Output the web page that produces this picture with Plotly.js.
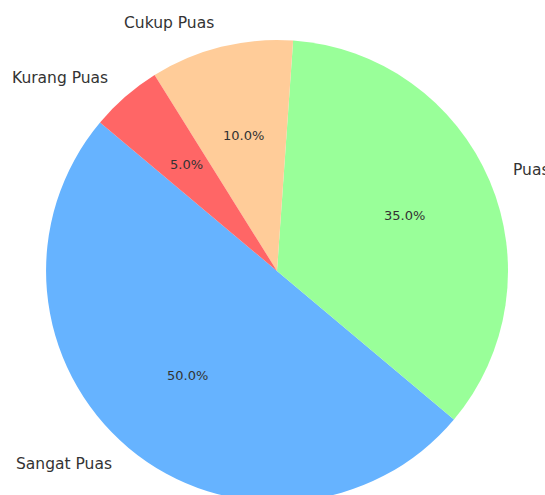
<!DOCTYPE html>
<html>
<head>
<meta charset="utf-8">
<script src="https://cdn.plot.ly/plotly-3.0.1.min.js"></script>
<style>html,body{margin:0;padding:0;overflow:hidden;background:#fff;}</style>
</head>
<body>
<div id="chart"></div>
<script>
const labels = ["Sangat Puas", "Puas", "Cukup Puas", "Kurang Puas"];
const values = [50, 35, 10, 5];
const colors = ["#66b3ff", "#99ff99", "#ffcc99", "#ff6666"];

const W = 545, H = 505;
const M = {l: 9, r: 0, t: 40, b: 3};
const pw = W - M.l - M.r, ph = H - M.t - M.b;
const R = Math.min(pw, ph) / 2;
const startAngle = 140; // degrees, counterclockwise from +x (like matplotlib)

const total = values.reduce((a, b) => a + b, 0);
const annotations = [];
let cum = 0;
values.forEach((v, i) => {
  const mid = (startAngle + 360 * (cum + v / 2) / total) * Math.PI / 180;
  cum += v;
  const c = Math.cos(mid), s = Math.sin(mid);
  annotations.push({
    xref: 'paper', yref: 'paper',
    x: 0.5 + 1.1 * R * c / pw, y: 0.5 + 1.1 * R * s / ph,
    text: labels[i], showarrow: false, yshift: 1.5,
    xanchor: c >= 0 ? 'left' : 'right', yanchor: 'middle',
    font: {family: 'DejaVu Sans', size: 15.5, color: '#333333'}
  });
  annotations.push({
    xref: 'paper', yref: 'paper',
    x: 0.5 + 0.6 * R * c / pw, y: 0.5 + 0.6 * R * s / ph,
    text: (100 * v / total).toFixed(1) + '%', showarrow: false, yshift: 1.5,
    xanchor: 'center', yanchor: 'middle',
    font: {family: 'DejaVu Sans', size: 13, color: '#333333'}
  });
});

const trace = {
  type: 'pie',
  labels: labels,
  values: values,
  marker: {colors: colors, line: {width: 0}},
  sort: false,
  direction: 'counterclockwise',
  rotation: 270 - startAngle,
  textinfo: 'none',
  hoverinfo: 'label+percent',
  showlegend: false
};

Plotly.newPlot('chart', [trace], {
  width: W, height: H,
  margin: M,
  paper_bgcolor: '#ffffff',
  annotations: annotations,
  showlegend: false
}, {displayModeBar: false, staticPlot: true});
</script>
</body>
</html>
